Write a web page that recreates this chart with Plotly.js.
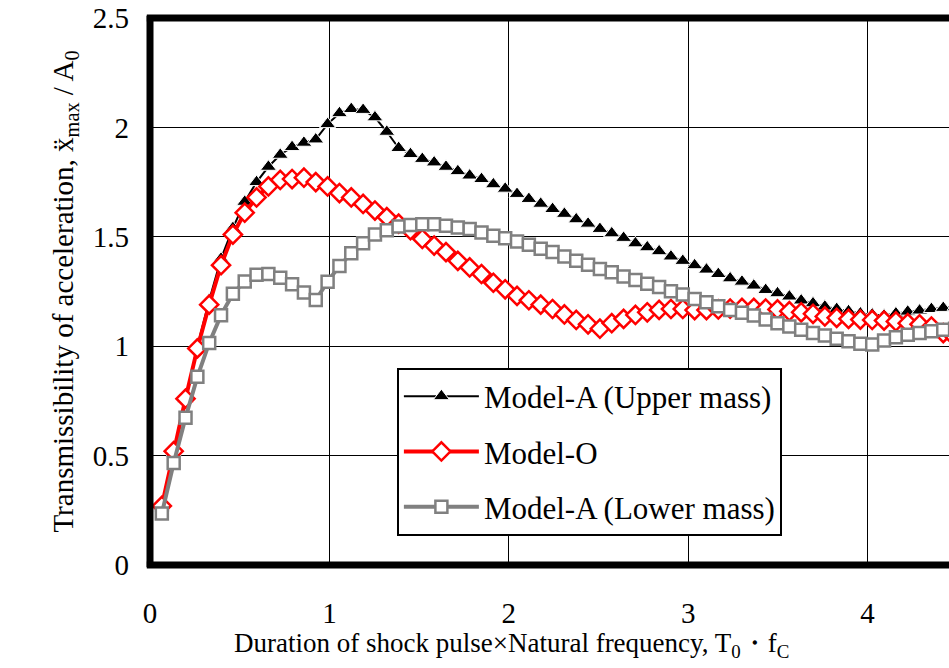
<!DOCTYPE html>
<html>
<head>
<meta charset="utf-8">
<script src="https://cdn.plot.ly/plotly-3.0.1.min.js"></script>
<style>html,body{margin:0;padding:0;background:#fff;overflow:hidden;}#chart{width:949px;height:668px;}</style>
</head>
<body>
<div id="chart"></div>
<script>
// Duration of shock pulse × natural frequency
const xValues = [0.066,0.132,0.198,0.264,0.33,0.396,0.462,0.528,0.594,0.66,0.726,0.792,0.858,0.924,0.99,1.056,1.122,1.188,1.254,1.32,1.386,1.452,1.518,1.584,1.65,1.716,1.782,1.848,1.914,1.98,2.046,2.112,2.178,2.244,2.31,2.376,2.442,2.508,2.574,2.64,2.706,2.772,2.838,2.904,2.97,3.036,3.102,3.168,3.234,3.3,3.366,3.432,3.498,3.564,3.63,3.696,3.762,3.828,3.894,3.96,4.026,4.092,4.158,4.224,4.29,4.356,4.422,4.488];

const upperMass = [0.26,0.51,0.76,1.00,1.21,1.40,1.54,1.66,1.75,1.82,1.875,1.91,1.93,1.945,2.015,2.065,2.084,2.08,2.046,1.98,1.906,1.878,1.856,1.84,1.82,1.80,1.78,1.764,1.74,1.72,1.696,1.673,1.651,1.627,1.605,1.58,1.56,1.536,1.516,1.495,1.47,1.452,1.434,1.41,1.39,1.37,1.35,1.33,1.31,1.295,1.277,1.257,1.242,1.227,1.209,1.196,1.181,1.17,1.16,1.15,1.145,1.14,1.15,1.158,1.163,1.17,1.175,1.18];

const modelO = [0.27,0.52,0.76,0.99,1.19,1.37,1.51,1.61,1.68,1.73,1.76,1.764,1.77,1.75,1.73,1.70,1.68,1.65,1.62,1.59,1.56,1.53,1.49,1.46,1.43,1.39,1.36,1.33,1.29,1.26,1.23,1.21,1.19,1.17,1.145,1.12,1.10,1.08,1.105,1.125,1.143,1.155,1.166,1.17,1.17,1.165,1.165,1.168,1.172,1.175,1.175,1.172,1.168,1.16,1.155,1.148,1.136,1.13,1.125,1.122,1.12,1.117,1.113,1.105,1.10,1.09,1.06,1.04];

const lowerMass = [0.235,0.466,0.673,0.86,1.015,1.142,1.24,1.296,1.326,1.33,1.313,1.283,1.245,1.211,1.295,1.366,1.425,1.47,1.51,1.53,1.547,1.554,1.557,1.557,1.551,1.543,1.536,1.52,1.505,1.493,1.478,1.464,1.445,1.43,1.41,1.39,1.372,1.353,1.338,1.318,1.303,1.285,1.27,1.251,1.236,1.216,1.201,1.183,1.166,1.153,1.14,1.122,1.105,1.09,1.075,1.06,1.049,1.034,1.023,1.011,1.008,1.026,1.041,1.052,1.06,1.068,1.075,1.08];

const seriesNames = ["Model-A (Upper mass)", "Model-O", "Model-A (Lower mass)"];
const xTicks = [0, 1, 2, 3, 4];
const yTicks = [0, 0.5, 1, 1.5, 2, 2.5];

const serif = "'Liberation Serif', 'Times New Roman', 'DejaVu Serif', serif";

const traces = [
  {
    x: xValues, y: upperMass, name: seriesNames[0], legendgroup: "a",
    type: "scatter", mode: "lines+markers",
    line: {color: "#000000", width: 2},
    marker: {symbol: "triangle-up", size: 14, color: "#000000", line: {color: "#ffffff", width: 1}}
  },
  {
    x: xValues, y: modelO, name: seriesNames[1], legendgroup: "b",
    type: "scatter", mode: "lines+markers",
    line: {color: "#ff0000", width: 4},
    marker: {symbol: "diamond", size: 14, color: "#ffffff", line: {color: "#ff0000", width: 2.5}}
  },
  {
    x: xValues, y: lowerMass, name: seriesNames[2], legendgroup: "c",
    type: "scatter", mode: "lines+markers",
    line: {color: "#808080", width: 4},
    marker: {symbol: "square", size: 12, color: "#ffffff", line: {color: "#808080", width: 2.5}}
  }
];

const frame = {type: "line", xref: "paper", yref: "paper", layer: "above", line: {color: "#000000", width: 7}};

const layout = {
  width: 949, height: 668,
  margin: {l: 150, r: 0, t: 18, b: 103},
  paper_bgcolor: "#ffffff", plot_bgcolor: "#ffffff",
  font: {family: serif, color: "#000000"},
  showlegend: true,
  legend: {
    x: 0.309, y: 0.361, xanchor: "left", yanchor: "top",
    bgcolor: "#ffffff", bordercolor: "#000000", borderwidth: 2,
    font: {family: serif, size: 31, color: "#000000"},
    traceorder: "grouped", tracegroupgap: 12, itemwidth: 75
  },
  xaxis: {
    range: [0, 4.454], tickvals: xTicks, ticktext: xTicks.map(String),
    showgrid: true, gridcolor: "#000000", gridwidth: 1,
    zeroline: false, showline: false, ticks: "",
    ticklabelstandoff: 28,
    tickfont: {family: serif, size: 29, color: "#000000"}
  },
  yaxis: {
    range: [0, 2.5], tickvals: yTicks, ticktext: yTicks.map(String),
    showgrid: true, gridcolor: "#000000", gridwidth: 1,
    zeroline: false, showline: false, ticks: "",
    ticklabelstandoff: 20,
    tickfont: {family: serif, size: 29, color: "#000000"},
    title: {text: "Transmissibility of acceleration, ẍ<sub>max</sub> / A<sub>0</sub>", font: {family: serif, size: 29, color: "#000000"}, standoff: 10}
  },
  shapes: [
    Object.assign({x0: 0, x1: 0, y0: -0.004, y1: 1.004}, frame),
    Object.assign({x0: -0.004, x1: 1.05, y0: 0, y1: 0}, frame),
    Object.assign({x0: -0.004, x1: 1.05, y0: 1, y1: 1}, frame)
  ],
  annotations: [
    {
      text: "Duration of shock pulse×Natural frequency, T<sub>0</sub>・f<sub>C</sub>",
      xref: "paper", yref: "paper", x: (511 - 150) / 799, y: 0, yshift: -80,
      xanchor: "center", yanchor: "middle", showarrow: false,
      font: {family: serif, size: 27, color: "#000000"}
    }
  ]
};

Plotly.newPlot("chart", traces, layout, {staticPlot: true, displayModeBar: false});
</script>
</body>
</html>
